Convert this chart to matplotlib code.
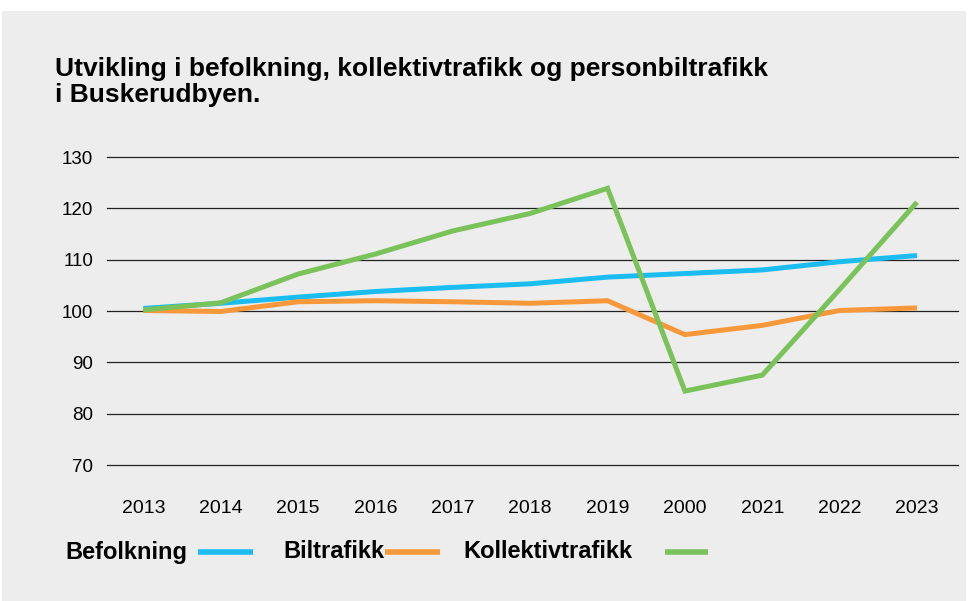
import matplotlib
matplotlib.use("Agg")
import matplotlib.pyplot as plt
from matplotlib.patches import Rectangle
from matplotlib.lines import Line2D

plt.rcParams['font.family'] = ['Liberation Sans', 'DejaVu Sans']

# labels as printed in the source (incl. "2000" typo for 2020)
years = ['2013', '2014', '2015', '2016', '2017', '2018', '2019', '2000', '2021', '2022', '2023']
befolkning = [100.5, 101.5, 102.7, 103.8, 104.6, 105.3, 106.6, 107.3, 108.0, 109.6, 110.8]
biltrafikk = [100.1, 99.9, 101.8, 102.0, 101.8, 101.5, 102.0, 95.4, 97.2, 100.1, 100.6]
kollektiv = [100.2, 101.6, 107.2, 111.1, 115.6, 119.0, 123.9, 84.4, 87.5, 104.2, 121.2]

series_names = ['Befolkning', 'Biltrafikk', 'Kollektivtrafikk']
colors = ['#1BBDF1', '#F7993A', '#7AC25A']
bg = '#EDEDED'

fig = plt.figure(figsize=(9.68, 6.01), dpi=100)
fig.patch.set_facecolor('white')
# grey panel behind everything
fig.patches.append(Rectangle((2 / 968, -0.01), 964 / 968, 0.01 + 590 / 601, transform=fig.transFigure,
                             facecolor=bg, edgecolor='none', zorder=-10))

ax = fig.add_axes([107 / 968, 1 - 465 / 601, 851 / 968, 308 / 601])
ax.set_zorder(1)
ax.patch.set_visible(False)

x = range(len(years))
for vals, name, c in zip([befolkning, biltrafikk, kollektiv], series_names, colors):
    ax.plot(x, vals, color=c, lw=3.6, label=name,
            solid_capstyle='butt', solid_joinstyle='miter')

ax.set_ylim(70, 130)
ax.set_yticks(range(70, 131, 10))
ax.set_xlim(-0.47, 10.53)
ax.set_xticks(list(x))
ax.set_xticklabels(years, fontsize=14)
ax.tick_params(axis='x', length=0, pad=25)
ax.tick_params(axis='y', length=0, pad=10, labelsize=13.5)
ax.yaxis.grid(True, color='#222222', lw=0.9)
for gl in ax.get_ygridlines():
    gl.set_clip_on(False)
ax.set_axisbelow(True)
for s in ax.spines.values():
    s.set_visible(False)

fig.text(55 / 968, 1 - 76 / 601, 'Utvikling i befolkning, kollektivtrafikk og personbiltrafikk',
         fontsize=19, fontweight='bold', va='baseline', ha='left', zorder=2)
fig.text(55 / 968, 1 - 102 / 601, 'i Buskerudbyen.',
         fontsize=19, fontweight='bold', va='baseline', ha='left', zorder=2)

# legend below the plot: label first, then a short line
leg_text_x = [65, 283, 463]
leg_line_x = [(198, 253), (385, 440), (665, 708)]
leg_y = 552
for name, c, tx, (x0, x1) in zip(series_names, colors, leg_text_x, leg_line_x):
    fig.text(tx / 968, 1 - leg_y / 601, name, fontsize=17, fontweight='bold',
             va='center', ha='left')
    fig.add_artist(Line2D([x0 / 968, x1 / 968], [1 - leg_y / 601] * 2,
                          transform=fig.transFigure, color=c, lw=4,
                          solid_capstyle='butt'))

fig.savefig('out.png', dpi=100, facecolor=fig.get_facecolor())
